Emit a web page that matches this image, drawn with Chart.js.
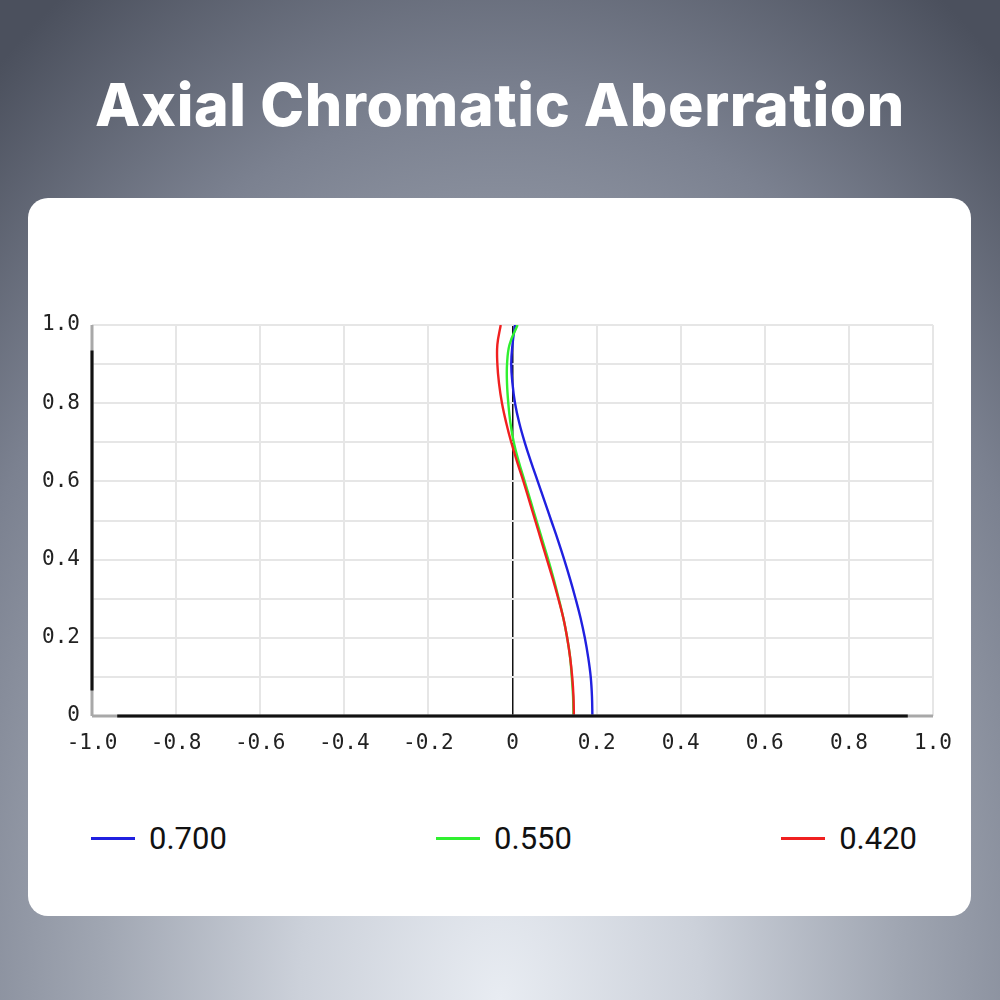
<!DOCTYPE html>
<html>
<head>
<meta charset="utf-8">
<script src="https://cdn.jsdelivr.net/npm/chart.js@4.4.1/dist/chart.umd.min.js"></script>
<style>
  html, body { margin: 0; padding: 0; }
  body {
    width: 1000px; height: 1000px; position: relative; overflow: hidden;
    background: radial-gradient(ellipse 80% 120% at 50% 100%, #e8ecf2 0%, #ccd1da 25%, #a0a6b2 50%, #7b8190 75%, #4b505d 100%);
    font-family: 'Roboto', 'Noto Sans', sans-serif;
  }
  h1 {
    position: absolute; left: 0; top: 69px; width: 1000px; margin: 0;
    text-align: center; color: #fff;
    font-family: 'Inter', 'Lato', sans-serif; font-weight: 800; font-size: 59px;
    letter-spacing: 0.6px; line-height: 72px;
  }
  .card {
    position: absolute; left: 28px; top: 198px; width: 943px; height: 718px;
    background: #fff; border-radius: 20px;
  }
  .plot { position: absolute; left: 0; top: 92px; width: 943px; height: 480px; }
  .legend {
    position: absolute; left: 63px; top: 622px; width: 826px;
    display: flex; justify-content: space-between; align-items: center;
  }
  .legend .item { display: flex; align-items: center; font-size: 31px; color: #111; }
  .legend .swatch { width: 44px; height: 3px; margin-right: 14px; }
</style>
</head>
<body>
<h1>Axial Chromatic Aberration</h1>
<div class="card">
  <div class="plot"><canvas id="chart"></canvas></div>
  <div class="legend" id="legend"></div>
</div>
<script>
// field height (y) and longitudinal focus shift (x) per wavelength
const fieldY = [0, 0.05, 0.1, 0.15, 0.2, 0.25, 0.3, 0.35, 0.4, 0.45, 0.5, 0.55, 0.6, 0.65, 0.7, 0.75, 0.8, 0.85, 0.9, 0.95, 1.0];
const shift700 = [0.190, 0.189, 0.186, 0.180, 0.172, 0.162, 0.150, 0.137, 0.123, 0.108, 0.092, 0.076, 0.060, 0.044, 0.029, 0.016, 0.006, 0.000, -0.003, 0.000, 0.006];
const shift550 = [0.145, 0.144, 0.141, 0.137, 0.130, 0.121, 0.110, 0.098, 0.085, 0.071, 0.057, 0.043, 0.029, 0.015, 0.003, -0.005, -0.010, -0.013, -0.013, -0.007, 0.012];
const shift420 = [0.146, 0.145, 0.142, 0.137, 0.130, 0.121, 0.109, 0.096, 0.082, 0.068, 0.054, 0.040, 0.026, 0.011, -0.003, -0.015, -0.025, -0.032, -0.036, -0.036, -0.028];

const seriesLabels = ['0.700', '0.550', '0.420'];
const seriesColors = ['#2020e0', '#30f030', '#f02020'];
const seriesValues = [shift700, shift550, shift420];

const xTicks = [-1.0, -0.8, -0.6, -0.4, -0.2, 0, 0.2, 0.4, 0.6, 0.8, 1.0];
const yTicks = [0, 0.2, 0.4, 0.6, 0.8, 1.0];

function fmt(v) {
  if (Math.abs(v) < 1e-9) return '0';
  return v.toFixed(1);
}

// axis lines: grey at the ends, black in the middle
const axisLines = {
  id: 'axisLines',
  afterDraw(chart) {
    const { ctx, scales: { x, y } } = chart;
    const y0 = y.getPixelForValue(0);
    const x0 = x.getPixelForValue(-1);
    ctx.save();
    ctx.lineWidth = 3;
    ctx.strokeStyle = '#a8a8a8';
    ctx.beginPath();
    ctx.moveTo(x.getPixelForValue(-1), y0); ctx.lineTo(x.getPixelForValue(1), y0);
    ctx.moveTo(x0, y.getPixelForValue(0)); ctx.lineTo(x0, y.getPixelForValue(1));
    ctx.stroke();
    ctx.strokeStyle = '#111';
    ctx.beginPath();
    ctx.moveTo(x.getPixelForValue(-0.94), y0); ctx.lineTo(x.getPixelForValue(0.94), y0);
    ctx.moveTo(x0, y.getPixelForValue(0.065)); ctx.lineTo(x0, y.getPixelForValue(0.935));
    ctx.stroke();
    ctx.restore();
  }
};

const datasets = seriesLabels.map((label, i) => ({
  label: label,
  data: fieldY.map((fy, j) => ({ x: seriesValues[i][j], y: fy })),
  borderColor: seriesColors[i],
  borderWidth: 2.4,
  showLine: true,
  pointRadius: 0,
  tension: 0.4,
  order: 2 - i
}));

new Chart(document.getElementById('chart'), {
  type: 'scatter',
  data: { datasets: datasets },
  plugins: [axisLines],
  options: {
    responsive: true,
    maintainAspectRatio: false,
    animation: false,
    layout: { padding: { top: 35, right: 38, left: 0, bottom: 0 } },
    plugins: { legend: { display: false }, tooltip: { enabled: false } },
    scales: {
      x: {
        min: -1, max: 1,
        afterFit: s => { s.height = 54; },
        afterBuildTicks: s => { s.ticks = xTicks.map(v => ({ value: v })); },
        border: { display: false },
        grid: {
          color: c => (c.tick && c.tick.value === 0 ? '#111' : '#e6e6e6'),
          lineWidth: c => (c.tick && c.tick.value === 0 ? 1.5 : 2),
          drawTicks: false
        },
        ticks: {
          padding: 15,
          color: '#222',
          font: { family: "'DejaVu Sans Mono', monospace", size: 21 },
          callback: v => fmt(v)
        }
      },
      y: {
        min: 0, max: 1,
        afterFit: s => { s.width = 64; },
        border: { display: false },
        grid: { color: '#e6e6e6', lineWidth: 2, drawTicks: false },
        ticks: {
          stepSize: 0.1,
          padding: 12,
          color: '#222',
          font: { family: "'DejaVu Sans Mono', monospace", size: 21 },
          callback: v => (yTicks.some(t => Math.abs(t - v) < 1e-6) ? fmt(v) : '')
        }
      }
    }
  }
});

// legend spread across the card
const legend = document.getElementById('legend');
seriesLabels.forEach((label, i) => {
  const item = document.createElement('div');
  item.className = 'item';
  const sw = document.createElement('span');
  sw.className = 'swatch';
  sw.style.background = seriesColors[i];
  item.appendChild(sw);
  item.appendChild(document.createTextNode(label));
  legend.appendChild(item);
});
</script>
</body>
</html>
